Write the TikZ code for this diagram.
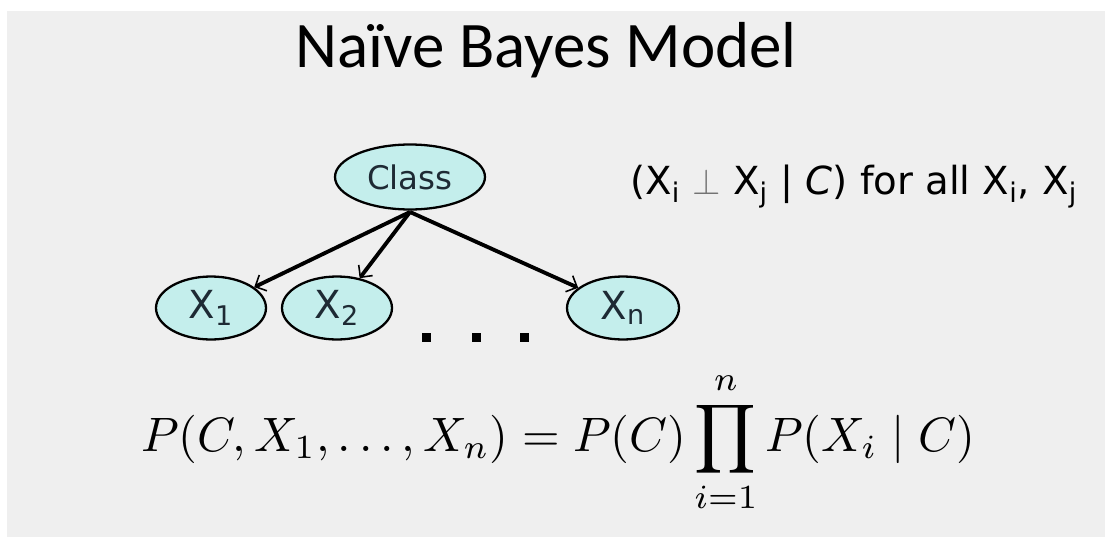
\documentclass[tikz,border=0pt]{standalone}
\usepackage{fontspec}
\usepackage{amsmath}
\usetikzlibrary{shapes.geometric,arrows.meta}
\newfontfamily\titlefont{Carlito}
\newfontfamily\nodefont{DejaVu Sans}
\definecolor{bggray}{RGB}{239,239,239}
\definecolor{nodefill}{RGB}{196,238,236}
\definecolor{nodetext}{RGB}{30,42,52}
\tikzset{
  varnode/.style={ellipse, draw=black, line width=1.3pt, fill=nodefill, inner sep=0pt,
    text=nodetext, font=\nodefont\fontsize{22}{26}\selectfont},
  edge/.style={line width=2.2pt, -{Straight Barb[line width=0.9pt,length=5pt,width=10pt]}},
  dotmark/.style={fill=black, draw=none, minimum size=0.18cm, inner sep=0pt, rectangle}
}
\begin{document}
\begin{tikzpicture}[x=0.02cm,y=-0.02cm]
\useasboundingbox (0,0) rectangle (1105,537);
\fill[white] (0,0) rectangle (1105,537);
\fill[bggray] (7,11) rectangle (1105,537);
\node[anchor=base, font=\titlefont\fontsize{37}{44}\selectfont, inner sep=0pt] (title) at (546,68) {Naïve Bayes Model};
\node[varnode, minimum width=3.0cm, minimum height=1.3cm, font=\nodefont\fontsize{18.5}{22}\selectfont] (cls) at (410,177) {Class};
\node[varnode, minimum width=2.2cm, minimum height=1.26cm] (x1) at (211,308) {X\textsubscript{1}};
\node[varnode, minimum width=2.2cm, minimum height=1.26cm] (x2) at (337,308) {X\textsubscript{2}};
\node[varnode, minimum width=2.24cm, minimum height=1.26cm] (xn) at (623,308) {X\textsubscript{n}};
\node[dotmark] (d1) at (426,337) {};
\node[dotmark] (d2) at (476,337) {};
\node[dotmark] (d3) at (524,337) {};
\coordinate (src) at (410,212);
\draw[edge] (src) -- (x1);
\draw[edge] (src) -- (x2);
\draw[edge] (src) -- (xn);
\node[anchor=base west, font=\nodefont\fontsize{22}{26}\selectfont, inner sep=0pt] (indep) at (630,194)
  {(X\textsubscript{i} {\color{black!55}$\perp$} X\textsubscript{j} | \textit{C}) for all X\textsubscript{i}, X\textsubscript{j}};
\node[anchor=base, inner sep=0pt] (formula) at (558,451)
  {\scalebox{2.75}{$P(C, X_1, \ldots, X_n) = P(C) \displaystyle\prod_{i=1}^{n} P(X_i \mid C)$}};
\end{tikzpicture}
\end{document}
